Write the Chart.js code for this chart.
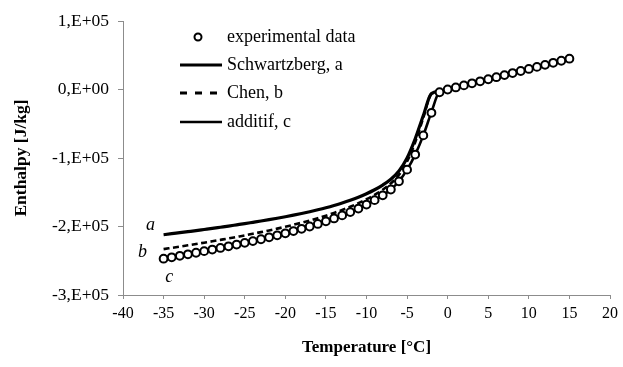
<!DOCTYPE html>
<html>
<head>
<meta charset="utf-8">
<script src="https://cdn.jsdelivr.net/npm/chart.js@4.4.0/dist/chart.umd.min.js"></script>
<style>
  html,body{ margin:0; padding:0; background:#fff; }
  #wrap{ width:623px; height:367px; }
</style>
</head>
<body>
<div id="wrap"><canvas id="chartEnthalpy" width="623" height="367"></canvas></div>
<script>
// Temperature [°C]
const temps = [-35,-34,-33,-32,-31,-30,-29,-28,-27,-26,-25,-24,-23,-22,-21,-20,-19,-18,-17,-16,
  -15,-14,-13,-12,-11,-10,-9,-8,-7,-6,-5,-4,-3,-2,-1,0,1,2,3,4,5,6,7,8,9,10,11,12,13,14,15];

// Enthalpy [J/kg]
const experimental = [-247000,-245000,-242800,-240600,-238300,-236000,-233700,-231300,-228900,-226400,
  -223900,-221300,-218600,-215800,-212900,-209900,-206700,-203400,-200000,-196300,
  -192400,-188200,-183800,-179000,-173800,-168000,-161500,-154500,-146000,-134000,
  -117000,-95000,-67000,-34000,-4000,0,3000,6000,9000,12000,15000,18000,21000,24000,27000,30000,
  33000,36000,39000,42000,45000];
const schwartzberg = [-212000,-210500,-209000,-207500,-206000,-204400,-202800,-201100,-199400,-197600,
  -195800,-193900,-192000,-190000,-187900,-185700,-183400,-181000,-178400,-175600,
  -172600,-169300,-165700,-161700,-157200,-152100,-146300,-139500,-131000,-119000,
  -100000,-72000,-38000,-6000,-3000,0,3000,6000,9000,12000,15000,18000,21000,24000,27000,30000,
  33000,36000,39000,42000,45000];
const chen = [-233000,-231200,-229400,-227500,-225600,-223600,-221600,-219500,-217400,-215200,
  -213000,-210600,-208200,-205700,-203100,-200400,-197500,-194500,-191300,-187900,
  -184200,-180200,-175900,-171200,-166000,-160200,-153700,-146300,-137000,-124500,
  -105000,-77000,-41000,-6000,-3000,0,3000,6000,9000,12000,15000,18000,21000,24000,27000,30000,
  33000,36000,39000,42000,45000];
const additif = [-247500,-245300,-243000,-240700,-238400,-236100,-233700,-231300,-228900,-226400,
  -223900,-221300,-218600,-215800,-212900,-209900,-206700,-203400,-200000,-196300,
  -192400,-188200,-183800,-179000,-173800,-168000,-161500,-154500,-146000,-134000,
  -117000,-95000,-67000,-33000,-3000,0,3000,6000,9000,12000,15000,18000,21000,24000,27000,30000,
  33000,36000,39000,42000,45000];

const seriesLabels = ['experimental data','Schwartzberg, a','Chen, b','additif, c'];

const yTickValues = [-300000,-200000,-100000,0,100000];
const yTickLabels = ['-3,E+05','-2,E+05','-1,E+05','0,E+00','1,E+05'];

// curve letters a, b, c
const curveTags = ['a','b','c'];
const curveTagT = [-36.6,-37.6,-34.3];
const curveTagH = [-198500,-237500,-274000];

const FONT = "'Liberation Serif', 'Times New Roman', serif";

function pts(ys){ return temps.map((t,i)=>({x:t, y:ys[i]})); }

// legend drawn inside the plot, top-left
const innerLegend = {
  id:'innerLegend',
  afterDatasetsDraw(chart){
    const {ctx} = chart;
    const rows = [37, 65, 93, 122];
    ctx.save();
    ctx.font = '18px ' + FONT;
    ctx.textBaseline = 'middle';
    chart.data.datasets.forEach((ds,i)=>{
      const y = rows[i];
      if(ds.showLine === false){
        ctx.beginPath();
        ctx.arc(198, y, 3.5, 0, Math.PI*2);
        ctx.fillStyle = '#fff'; ctx.fill();
        ctx.lineWidth = 2; ctx.strokeStyle = '#000'; ctx.stroke();
      } else {
        ctx.beginPath();
        ctx.setLineDash(ds.borderDash ? [7,8] : []);
        ctx.lineWidth = ds.borderDash ? 3 : ds.borderWidth; ctx.strokeStyle = '#000';
        ctx.moveTo(180, y); ctx.lineTo(222, y); ctx.stroke();
        ctx.setLineDash([]);
      }
      ctx.fillStyle = '#000';
      ctx.fillText(ds.label, 227, y);
    });
    ctx.restore();
  }
};

const curveLetters = {
  id:'curveLetters',
  afterDatasetsDraw(chart){
    const {ctx, scales} = chart;
    ctx.save();
    ctx.font = 'italic 18px ' + FONT;
    ctx.textAlign = 'center';
    ctx.textBaseline = 'middle';
    ctx.fillStyle = '#000';
    curveTags.forEach((t,i)=>{
      ctx.fillText(t, scales.x.getPixelForValue(curveTagT[i]), scales.y.getPixelForValue(curveTagH[i]));
    });
    ctx.restore();
  }
};

const axisGrey = '#8c8c8c';

new Chart(document.getElementById('chartEnthalpy').getContext('2d'), {
  type:'line',
  data:{
    datasets:[
      { label:seriesLabels[0], data:pts(experimental), showLine:false, pointStyle:'circle',
        pointRadius:3.9, pointBackgroundColor:'#fff', pointBorderColor:'#000', pointBorderWidth:2 },
      { label:seriesLabels[1], data:pts(schwartzberg), borderColor:'#000', borderWidth:3.2,
        pointRadius:0, tension:0.4, cubicInterpolationMode:'monotone' },
      { label:seriesLabels[2], data:pts(chen), borderColor:'#000', borderWidth:2.6, borderDash:[6,3.5],
        pointRadius:0, tension:0.4, cubicInterpolationMode:'monotone' },
      { label:seriesLabels[3], data:pts(additif), borderColor:'#000', borderWidth:2.6,
        pointRadius:0, tension:0.4, cubicInterpolationMode:'monotone' }
    ]
  },
  options:{
    responsive:false,
    animation:false,
    events:[],
    layout:{ padding:{ left:0, right:10, top:21, bottom:0 } },
    plugins:{ legend:{display:false}, tooltip:{enabled:false} },
    scales:{
      x:{
        type:'linear', min:-40, max:20,
        afterFit(s){ s.height = 72; },
        ticks:{ stepSize:5, color:'#000', padding:5, font:{family:FONT, size:16}, maxRotation:0 },
        grid:{ drawOnChartArea:false, drawTicks:true, tickLength:4, color:axisGrey },
        border:{ color:axisGrey, width:1 },
        title:{ display:true, text:'Temperature [°C]', color:'#000',
          font:{family:FONT, size:17, weight:'bold'}, padding:{top:0, bottom:9} }
      },
      y:{
        min:-300000, max:100000,
        afterFit(s){ s.width = 123; },
        afterBuildTicks(s){ s.ticks = yTickValues.map(v=>({value:v})); },
        ticks:{ color:'#000', padding:9, font:{family:FONT, size:17.5},
          callback:(v)=>{ const i = yTickValues.indexOf(v); return i>=0 ? yTickLabels[i] : ''; } },
        grid:{ drawOnChartArea:false, drawTicks:true, tickLength:5, color:axisGrey },
        border:{ color:axisGrey, width:1 },
        title:{ display:true, text:'Enthalpy [J/kg]', color:'#000',
          font:{family:FONT, size:17.5, weight:'bold'}, padding:{top:11, bottom:0} }
      }
    }
  },
  plugins:[innerLegend, curveLetters]
});
</script>
</body>
</html>
